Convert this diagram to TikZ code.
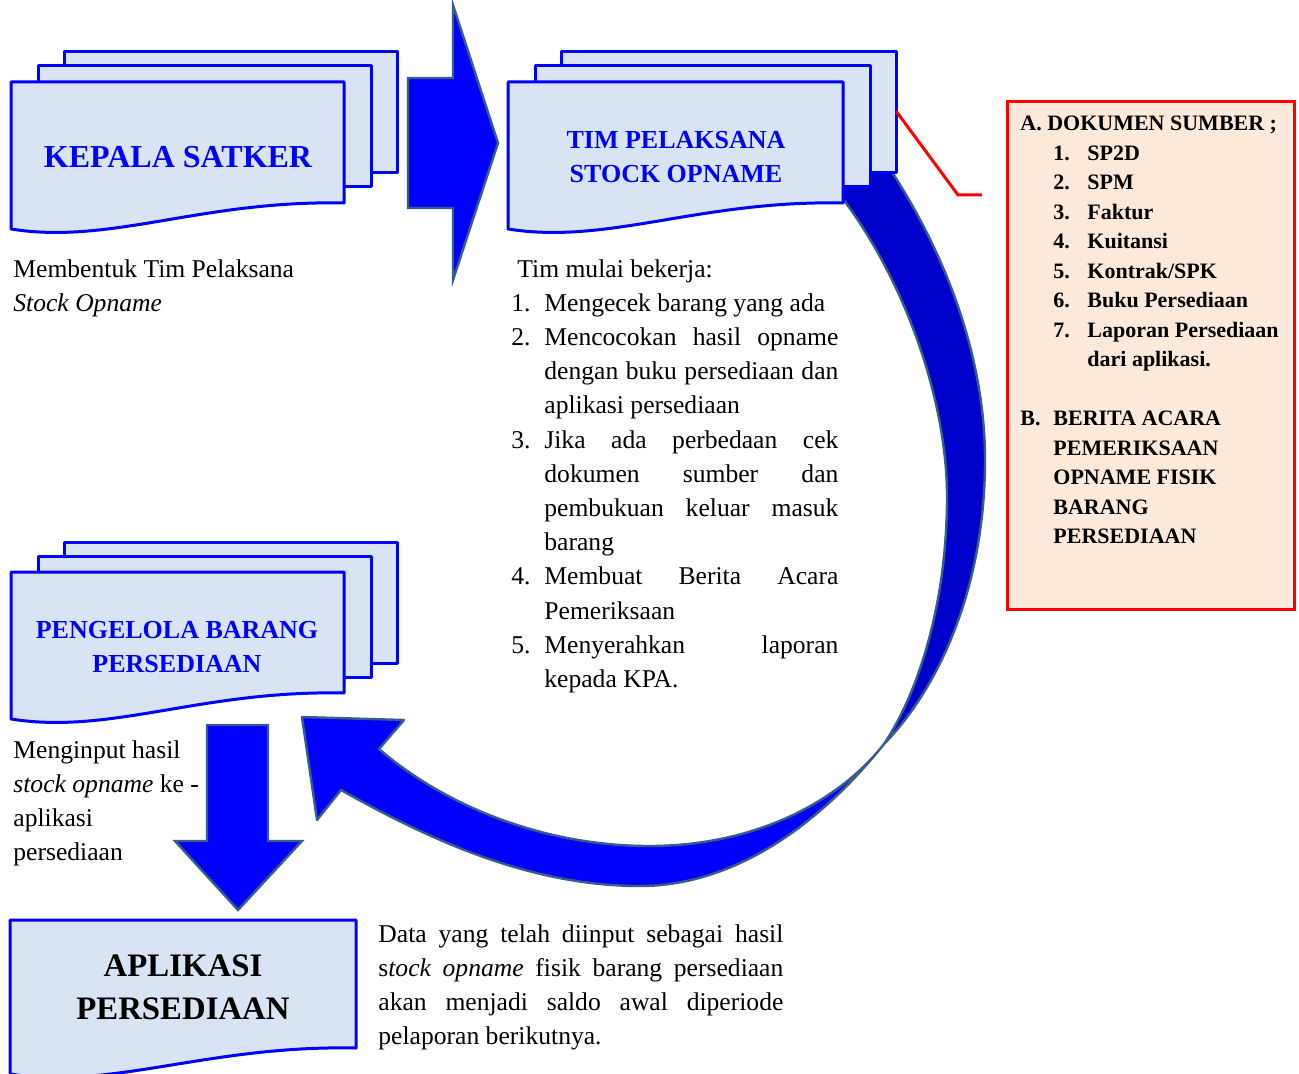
\documentclass[tikz,border=0pt]{standalone}
\usepackage{fontspec}
\setmainfont{Liberation Serif}
\usetikzlibrary{positioning}

\definecolor{docfill}{RGB}{216,228,243}
\definecolor{slate}{RGB}{56,93,138}
\definecolor{arcblue}{RGB}{0,0,204}
\definecolor{calloutfill}{RGB}{253,233,217}

% one page with a wavy bottom: x, y, width, height
\newcommand{\docpage}[4]{%
\draw[docline] (#1,#2) -- ({#1+#3},#2) -- ({#1+#3},{#2+#4})
  .. controls ({#1+0.57*#3},{#2+#4-3}) and ({#1+0.3*#3},{#2+#4+42}) .. (#1,{#2+#4+26}) -- cycle;}
% three stacked pages
\newcommand{\docstack}[4]{%
\draw[docline] ({#1+53},{#2-30}) rectangle ++(#3,#4);
\draw[docline] ({#1+27},{#2-16}) rectangle ++(#3,#4);
\docpage{#1}{#2}{#3}{#4}}
\newcommand{\nomor}[1]{\makebox[16.5pt][l]{#1}}
\newcommand{\lanjut}{\hspace*{16.5pt}}
\newcommand{\rata}[2]{\makebox[#1][s]{#2}}

\begin{document}
\begin{tikzpicture}[x=0.5pt,y=-0.5pt,
  docline/.style={draw=blue, line width=1.5pt, fill=docfill, line join=round},
  blockarrow/.style={draw=slate, line width=1.2pt, fill=blue, line join=round},
  title/.style={text=blue, font=\bfseries\fontsize{13}{17}\selectfont, align=center},
  body/.style={font=\fontsize{12.8}{17.1}\selectfont, align=left, anchor=north west, inner sep=0pt},
  listbold/.style={font=\bfseries\fontsize{11}{14.75}\selectfont, align=left, anchor=north west, inner sep=0pt}]
\useasboundingbox (0,0) rectangle (1299,1074);

% arc behind the team
\draw[blockarrow, fill=arcblue] (836,188) -- (888,160) -- (892,172)
  .. controls (955,270) and (985,370) .. (985,460)
  .. controls (985,590) and (937,690) .. (884,744)
  .. controls (920,690) and (947,600) .. (947,497)
  .. controls (947,400) and (905,280) .. (840,195) -- cycle;

% documents
\docstack{11}{82}{333}{121}
\docstack{508}{82}{335}{121}
\docstack{11}{572}{333}{121}
\docpage{10}{920}{346}{128}

% arrows
\draw[blockarrow, line join=miter] (408,78) -- (453,78) -- (453,5) -- (498,143) -- (453,280) -- (453,208) -- (408,208) -- cycle;
\draw[blockarrow] (302,717) -- (404,720) -- (379,749)
  .. controls (450,810) and (550,846) .. (649,846)
  .. controls (760,846) and (842,798) .. (884,744)
  .. controls (815,830) and (730,886) .. (640,886)
  .. controls (530,886) and (430,840) .. (341,790) -- (317,820) -- cycle;
\draw[blockarrow, line join=miter] (207,725) -- (268,725) -- (268,841) -- (302,841) -- (238,910) -- (175,841) -- (207,841) -- cycle;

% titles
\node[title, font=\bfseries\fontsize{16}{19}\selectfont] (kepala) at (178,157) {KEPALA SATKER};
\node[title] (tim) at (676,157) {TIM PELAKSANA\\STOCK OPNAME};
\node[title] (pengelola) at (177,647) {PENGELOLA BARANG\\PERSEDIAAN};
\node[font=\bfseries\fontsize{16.4}{21.5}\selectfont, align=center] (aplikasi) at (183,987) {APLIKASI\\PERSEDIAAN};

% texts
\node[body] (membentuk) at (13,259) {Membentuk Tim Pelaksana\\\textit{Stock Opname}};
\node[body] (langkah) at (511,259) {\hspace*{3pt}Tim mulai bekerja:\\
\nomor{1.}Mengecek barang yang ada\\
\nomor{2.}\rata{147pt}{Mencocokan hasil opname}\\
\lanjut\rata{147pt}{dengan buku persediaan dan}\\
\lanjut aplikasi persediaan\\
\nomor{3.}\rata{147pt}{Jika ada perbedaan cek}\\
\lanjut\rata{147pt}{dokumen sumber dan}\\
\lanjut\rata{147pt}{pembukuan keluar masuk}\\
\lanjut barang\\
\nomor{4.}\rata{147pt}{Membuat Berita Acara}\\
\lanjut Pemeriksaan\\
\nomor{5.}\rata{147pt}{Menyerahkan laporan}\\
\lanjut kepada KPA.};
\node[body] (menginput) at (13,740) {Menginput hasil\\\textit{stock opname} ke -\\aplikasi\\persediaan};
\node[body] (data) at (378,924) {\rata{202.5pt}{Data yang telah diinput sebagai hasil}\\
\rata{202.5pt}{s\textit{tock opname} fisik barang persediaan}\\
\rata{202.5pt}{akan menjadi saldo awal diperiode}\\
pelaporan berikutnya.};

% source documents
\node[draw=red, line width=1.5pt, fill=calloutfill, minimum width=143.5pt, minimum height=254pt,
  anchor=north west, inner sep=0pt] (sumber) at (1006,100) {};
\node[listbold] (daftar) at (1020,116) {A.~DOKUMEN SUMBER ;\\
\lanjut\makebox[17pt][l]{1.}SP2D\\
\lanjut\makebox[17pt][l]{2.}SPM\\
\lanjut\makebox[17pt][l]{3.}Faktur\\
\lanjut\makebox[17pt][l]{4.}Kuitansi\\
\lanjut\makebox[17pt][l]{5.}Kontrak/SPK\\
\lanjut\makebox[17pt][l]{6.}Buku Persediaan\\
\lanjut\makebox[17pt][l]{7.}Laporan Persediaan\\
\hspace*{33.5pt}dari aplikasi.\\[14.75pt]
\nomor{B.}BERITA ACARA\\
\lanjut PEMERIKSAAN\\
\lanjut OPNAME FISIK\\
\lanjut BARANG\\
\lanjut PERSEDIAAN};
\coordinate (pojok) at (896,111);
\coordinate (sudut) at (958,195);
\coordinate (ujung) at (982,195);
\draw[red, line width=1.5pt] (pojok) -- (sudut) -- (ujung);
\end{tikzpicture}
\end{document}
